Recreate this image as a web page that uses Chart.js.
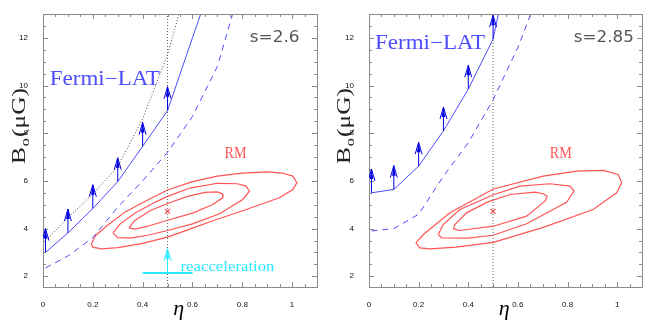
<!DOCTYPE html>
<html><head><meta charset="utf-8">
<script src="https://cdn.jsdelivr.net/npm/chart.js@4/dist/chart.umd.min.js"></script>
<style>
html,body{margin:0;padding:0;background:#fff;}
#wrap{position:relative;width:656px;height:327px;overflow:hidden;}
canvas{position:absolute;top:0;}
</style></head><body>
<div id="wrap"><canvas id="c1" width="330" height="327" style="left:0"></canvas><canvas id="c2" width="326" height="327" style="left:330px"></canvas></div>
<script>
// ---------- tick labels ----------
const xTickValues = [0, 0.2, 0.4, 0.6, 0.8, 1];
const xTickLabels = ['0', '0.2', '0.4', '0.6', '0.8', '1'];
const yTickValues = [2, 4, 6, 8, 10, 12];
const yTickLabels = ['2', '4', '6', '8', '10', '12'];

// ---------- s = 2.6 (left) ----------
const etaLimitS26 = [0.01, 0.1, 0.2, 0.3, 0.4, 0.5, 0.6, 0.7];
const bLimitS26   = [3.0, 3.82, 4.84, 5.97, 7.45, 8.95, 12.0, 15.0];
const etaArrowS26 = [0.01, 0.1, 0.2, 0.3, 0.4, 0.5];
const bArrowS26   = [3.0, 3.82, 4.84, 5.97, 7.45, 8.95];
const etaDashS26  = [0.01, 0.1, 0.2, 0.3, 0.4, 0.5, 0.6, 0.7, 0.8];
const bDashS26    = [2.35, 2.85, 3.62, 4.9, 6.0, 7.2, 8.7, 10.8, 14.4];
const etaDotS26   = [0.01, 0.1, 0.2, 0.3, 0.4, 0.5, 0.6];
const bDotS26     = [3.5, 4.45, 5.45, 6.6, 8.6, 11.3, 15.0];
const rmOuterEtaS26 = [0.194,0.21,0.26,0.33,0.42,0.5,0.6,0.7,0.8,0.9,0.96,1.003,1.019,1.003,0.949,0.816,0.682,0.6,0.5,0.4,0.3,0.234,0.2,0.194];
const rmOuterBS26   = [3.33,3.7,4.15,4.7,5.2,5.62,5.97,6.2,6.33,6.38,6.33,6.2,5.92,5.64,5.29,4.8,4.33,4.02,3.64,3.38,3.2,3.15,3.22,3.33];
const rmMidEtaS26 = [0.281,0.31,0.37,0.44,0.5,0.59,0.7,0.78,0.815,0.829,0.802,0.709,0.6,0.5,0.42,0.35,0.3,0.281];
const rmMidBS26   = [3.82,4.2,4.65,5.05,5.35,5.7,5.9,5.88,5.78,5.57,5.22,4.62,4.2,3.92,3.72,3.6,3.62,3.82];
const rmInEtaS26 = [0.345,0.37,0.43,0.5,0.58,0.65,0.7,0.72,0.722,0.68,0.6,0.5,0.42,0.37,0.345];
const rmInBS26   = [4.03,4.35,4.75,5.05,5.35,5.52,5.54,5.45,5.3,5.0,4.65,4.35,4.1,3.98,4.03];
const rmBestS26 = {eta: 0.5, b: 4.72};
const reaccEta = [0.4, 0.6];
const reaccB   = [2.14, 2.14];
const reaccArrow = {eta: 0.5, from: 2.14, to: 3.15};

// ---------- s = 2.85 (right) ----------
const etaLimitS285 = [0.01, 0.1, 0.2, 0.3, 0.4, 0.5, 0.6];
const bLimitS285   = [5.5, 5.64, 6.62, 8.1, 9.85, 11.95, 16.9];
const etaArrowS285 = [0.01, 0.1, 0.2, 0.3, 0.4, 0.5];
const bArrowS285   = [5.5, 5.64, 6.62, 8.1, 9.85, 11.95];
const etaDashS285  = [0.01, 0.1, 0.2, 0.3, 0.4, 0.5, 0.6, 0.7];
const bDashS285    = [3.9, 4.0, 4.6, 6.2, 7.6, 9.4, 11.6, 14.3];
const rmOuterEtaS285 = [0.189,0.205,0.246,0.35,0.501,0.702,0.903,0.998,1.018,1.004,0.944,0.836,0.702,0.501,0.326,0.219,0.189];
const rmOuterBS285   = [3.40,3.19,3.15,3.22,3.42,4.05,4.80,5.50,5.92,6.27,6.44,6.41,6.20,5.66,4.66,3.75,3.40];
const rmMidEtaS285 = [0.279,0.293,0.4,0.5,0.635,0.796,0.826,0.810,0.729,0.608,0.501,0.366,0.299,0.279];
const rmMidBS285   = [3.75,3.61,3.6,3.72,4.2,5.1,5.57,5.78,5.88,5.78,5.42,4.80,4.17,3.75];
const rmInEtaS285 = [0.340,0.366,0.501,0.635,0.709,0.718,0.702,0.669,0.568,0.474,0.393,0.346,0.340];
const rmInBS285   = [3.99,3.92,4.10,4.52,5.15,5.36,5.46,5.53,5.43,5.10,4.66,4.17,3.99];
const rmBestS285 = {eta: 0.5, b: 4.72};

// ---------- helpers ----------
const zip = (xs, ys) => xs.map((x, i) => ({x: x, y: ys[i]}));
const BLUE = 'rgb(76,76,255)';
const ARROW = 'rgb(0,0,225)';
const RED = 'rgb(255,85,85)';
const CYAN = 'rgb(40,235,255)';

function line(data, color, opts) {
  return Object.assign({data: data, showLine: true, borderColor: color, backgroundColor: color,
    borderWidth: 1, pointRadius: 0, fill: false, tension: 0}, opts || {});
}

function drawFit(ctx, text, x, y, font, color, width, align) {
  ctx.save();
  ctx.font = font; ctx.fillStyle = color; ctx.textBaseline = 'alphabetic';
  const m = ctx.measureText(text).width;
  const sx = width ? width / m : 1;
  ctx.translate(x, y); ctx.scale(sx, 1);
  ctx.textAlign = align || 'center';
  ctx.fillText(text, 0, 0);
  ctx.restore();
}

function drawArrow(ctx, x, yBase, yTip, color) {
  ctx.save();
  ctx.strokeStyle = color; ctx.fillStyle = color; ctx.lineWidth = 1;
  ctx.beginPath(); ctx.moveTo(x, yBase); ctx.lineTo(x, yTip); ctx.stroke();
  ctx.beginPath(); ctx.moveTo(x - 3.5, yTip + 12); ctx.lineTo(x, yTip); ctx.lineTo(x + 3.5, yTip + 12); ctx.stroke();
  ctx.beginPath(); ctx.moveTo(x - 1.8, yTip + 10); ctx.lineTo(x, yTip); ctx.lineTo(x + 1.8, yTip + 10); ctx.closePath(); ctx.fill();
  ctx.restore();
}

function drawYTitle(ctx, cx, cy, totalW) {
  ctx.save();
  ctx.translate(cx, cy); ctx.rotate(-Math.PI / 2);
  const big = '19px "Liberation Serif"', small = '12px "Liberation Serif"';
  ctx.font = big; const wB = ctx.measureText('B').width; const wR = ctx.measureText('(μG)').width;
  ctx.font = small; const wo = ctx.measureText('o').width;
  const tot = wB + wo + wR + 1.5;
  ctx.scale(totalW / tot, 1);
  const x0 = -tot / 2;
  ctx.fillStyle = '#222'; ctx.textBaseline = 'alphabetic'; ctx.textAlign = 'left';
  ctx.font = big; ctx.fillText('B', x0, 0);
  ctx.font = small; ctx.fillText('o', x0 + wB + 0.5, 4);
  ctx.font = big; ctx.fillText('(μG)', x0 + wB + wo + 1.5, 0);
  ctx.restore();
}

const framePlugin = {
  id: 'frame',
  afterDatasetsDraw(chart) {
    const {ctx, chartArea: a, scales: {x, y}} = chart;
    ctx.save();
    ctx.strokeStyle = '#8a8a8a'; ctx.lineWidth = 1;
    ctx.strokeRect(Math.round(a.left) + 0.5, Math.round(a.top) + 0.5, Math.round(a.right - a.left), Math.round(a.bottom - a.top));
    ctx.beginPath();
    for (let i = 0; i <= 22; i++) {
      const v = i * 0.05; const px = Math.round(x.getPixelForValue(v)) + 0.5;
      const L = (i % 4 === 0) ? 5 : 3;
      ctx.moveTo(px, a.bottom); ctx.lineTo(px, a.bottom - L);
      ctx.moveTo(px, a.top); ctx.lineTo(px, a.top + L);
    }
    for (let k = 4; k <= 26; k++) {
      const v = k * 0.5; const py = Math.round(y.getPixelForValue(v)) + 0.5;
      const L = (k % 4 === 0) ? 5 : 3;
      ctx.moveTo(a.left, py); ctx.lineTo(a.left + L, py);
      ctx.moveTo(a.right, py); ctx.lineTo(a.right - L, py);
    }
    ctx.stroke();
    ctx.restore();
  }
};

function annotPlugin(cfg) {
  return {
    id: 'annot',
    afterDatasetsDraw(chart) {
      const {ctx, chartArea: a, scales: {x, y}} = chart;
      ctx.save();
      ctx.beginPath(); ctx.rect(a.left, a.top - 1, a.right - a.left, a.bottom - a.top + 1); ctx.clip();
      cfg.arrowEta.forEach((e, i) => {
        const px = x.getPixelForValue(e);
        drawArrow(ctx, px, y.getPixelForValue(cfg.arrowB[i]), y.getPixelForValue(cfg.arrowB[i] + 1.0), ARROW);
      });
      if (cfg.reacc) {
        const px = x.getPixelForValue(reaccArrow.eta);
        drawArrow(ctx, px, y.getPixelForValue(reaccArrow.from), y.getPixelForValue(reaccArrow.to), CYAN);
      }
      ctx.restore();
      // texts
      drawFit(ctx, cfg.sLabel, x.getPixelForValue(cfg.sPos[0]), y.getPixelForValue(cfg.sPos[1]), '15px "DejaVu Sans"', '#555', cfg.sWidth);
      drawFit(ctx, 'Fermi\u2212LAT', x.getPixelForValue(cfg.fPos[0]), y.getPixelForValue(cfg.fPos[1]), '20px "Liberation Serif"', BLUE, 110);
      drawFit(ctx, 'RM', x.getPixelForValue(0.773), y.getPixelForValue(6.98), '17px "Liberation Serif"', RED, 22);
      if (cfg.reacc) {
        drawFit(ctx, 'reacceleration', x.getPixelForValue(0.552), y.getPixelForValue(2.24), '14px "Liberation Serif"', CYAN, 94, 'left');
      }
      drawYTitle(ctx, cfg.yTitleX, 126, 76);
      drawFit(ctx, '\u03b7', x.getPixelForValue(0.545), 315, 'italic 22px "Liberation Serif"', '#000', null);
    }
  };
}

function makeChart(canvas, cfg) {
  return new Chart(canvas, {
    type: 'scatter',
    data: {datasets: cfg.datasets},
    options: {
      responsive: false, animation: false, devicePixelRatio: 1,
      layout: {padding: {left: 0, right: cfg.padRight, top: 14, bottom: 0}},
      plugins: {legend: {display: false}, tooltip: {enabled: false}},
      scales: {
        x: {
          type: 'linear', min: 0, max: 1.1,
          grid: {display: false}, border: {display: false},
          afterBuildTicks: s => { s.ticks = xTickValues.map(v => ({value: v})); },
          afterFit: s => { s.height = 40; },
          ticks: {autoSkip: false, maxRotation: 0, padding: 5, color: '#111',
            font: {size: 8, family: 'Liberation Sans'},
            callback: (v, i) => xTickLabels[i]}
        },
        y: {
          type: 'linear', min: 1.55, max: 13,
          grid: {display: false}, border: {display: false},
          afterBuildTicks: s => { s.ticks = yTickValues.map(v => ({value: v})); },
          afterFit: s => { s.width = cfg.axisLeft; },
          ticks: {autoSkip: false, padding: 7, color: '#111',
            font: {size: 8, family: 'Liberation Sans'},
            callback: (v, i) => yTickLabels[i]}
        }
      }
    },
    plugins: [framePlugin, annotPlugin(cfg)]
  });
}

makeChart(document.getElementById('c1'), {
  padRight: 13, axisLeft: 43,
  datasets: [
    line([{x: 0.5, y: 1.55}, {x: 0.5, y: 13}], '#666', {borderDash: [1, 2]}),
    line(zip(etaDotS26, bDotS26), '#444', {borderDash: [1, 2]}),
    line(zip(etaDashS26, bDashS26), BLUE, {borderDash: [6, 5]}),
    line(zip(etaLimitS26, bLimitS26), BLUE),
    line(zip(rmOuterEtaS26, rmOuterBS26), RED, {borderWidth: 1.2}),
    line(zip(rmMidEtaS26, rmMidBS26), RED, {borderWidth: 1.2}),
    line(zip(rmInEtaS26, rmInBS26), RED, {borderWidth: 1.2}),
    {data: [{x: rmBestS26.eta, y: rmBestS26.b}], pointStyle: 'crossRot', pointRadius: 3.5, borderColor: RED, borderWidth: 1.3, showLine: false},
    line(zip(reaccEta, reaccB), CYAN, {borderWidth: 2})
  ],
  arrowEta: etaArrowS26, arrowB: bArrowS26, reacc: true,
  sLabel: 's=2.6', sPos: [0.93, 11.81], sWidth: 50,
  fPos: [0.248, 10.04], yTitleX: 25
});

makeChart(document.getElementById('c2'), {
  padRight: 14, axisLeft: 39,
  datasets: [
    line([{x: 0.5, y: 1.55}, {x: 0.5, y: 11.95}], '#666', {borderDash: [1, 2]}),
    line(zip(etaDashS285, bDashS285), BLUE, {borderDash: [6, 5]}),
    line(zip(etaLimitS285, bLimitS285), BLUE),
    line(zip(rmOuterEtaS285, rmOuterBS285), RED, {borderWidth: 1.2}),
    line(zip(rmMidEtaS285, rmMidBS285), RED, {borderWidth: 1.2}),
    line(zip(rmInEtaS285, rmInBS285), RED, {borderWidth: 1.2}),
    {data: [{x: rmBestS285.eta, y: rmBestS285.b}], pointStyle: 'crossRot', pointRadius: 3.5, borderColor: RED, borderWidth: 1.3, showLine: false}
  ],
  arrowEta: etaArrowS285, arrowB: bArrowS285, reacc: false,
  sLabel: 's=2.85', sPos: [0.946, 11.81], sWidth: 60,
  fPos: [0.246, 11.55], yTitleX: 20
});
</script>
</body></html>
